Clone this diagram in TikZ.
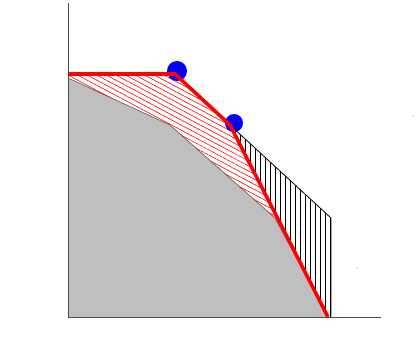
\documentclass[tikz,border=0pt]{standalone}
\usetikzlibrary{patterns.meta}
\begin{document}
\begin{tikzpicture}[x=1pt,y=-1pt,
  axis/.style={draw=black!70,line width=0.9pt},
  redline/.style={draw=red,line width=3.6pt,line join=miter,line cap=butt},
  ball/.style={fill=blue}]
\useasboundingbox (0,0) rectangle (416,360);
% gray region
\fill[black!25] (68,78) -- (170,125) -- (275,218) -- (328,317) -- (68,317) -- cycle;
\draw[black!60,line width=0.7pt] (68,78) -- (170,125) -- (275,218) -- (328,317);
% red hatched region
\path[pattern={Lines[angle=-28,distance=4.5pt,line width=0.6pt]},pattern color=red]
  (68,74) -- (175,74) -- (230,125) -- (275,218) -- (170,125) -- (68,78) -- cycle;
% blue balls
\fill[ball] (177,71) circle (10);
\fill[ball] (234,123) circle (9);
% black vertical hatched region
\path[fill=white] (230,125) -- (331,218) -- (331,317) -- (328,317) -- cycle;
\path[pattern={Lines[angle=90,distance=5pt,line width=0.7pt]},pattern color=black]
  (230,125) -- (331,218) -- (331,317) -- (328,317) -- cycle;
\draw[black,line width=0.8pt] (230,125) -- (331,218) -- (331,317);
% axes
\draw[axis] (68,3) -- (68,317) -- (381,317);
% red polyline
\draw[redline] (68,74) -- (175,74) -- (230,125) -- (328,317);
% stray dots
\fill[black!40] (413,116) circle (0.7);
\fill[black!40] (357,268) circle (0.7);
\end{tikzpicture}
\end{document}
